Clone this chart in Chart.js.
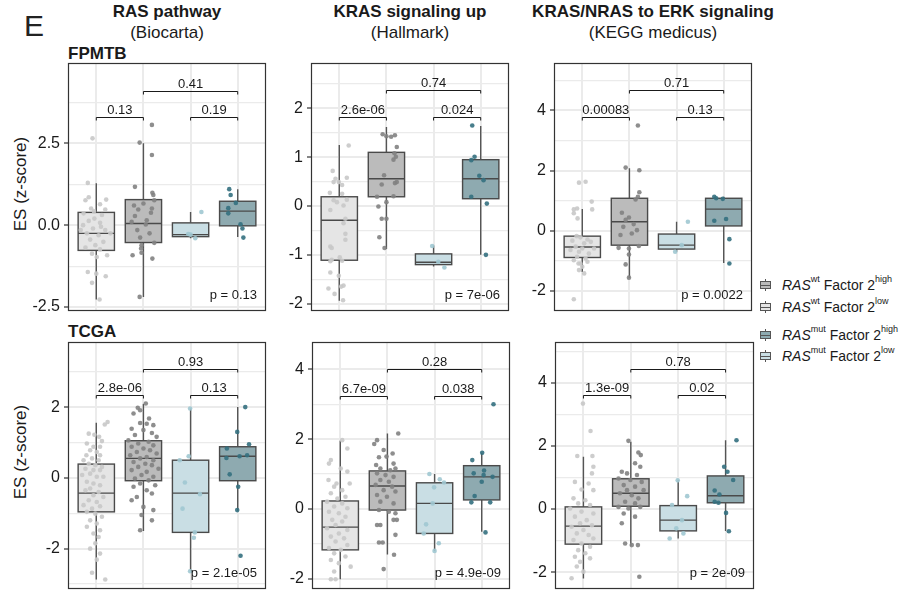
<!DOCTYPE html>
<html><head><meta charset="utf-8">
<script src="https://cdn.jsdelivr.net/npm/chart.js@4.4.0/dist/chart.umd.min.js"></script>
<style>
body{margin:0;width:902px;height:591px;background:#fff;position:relative;overflow:hidden;font-family:"Liberation Sans",Arial,sans-serif;color:#1a1a1a}
.abs{position:absolute;white-space:nowrap}
.t1{font-weight:bold;font-size:17px;line-height:20px;transform:translateX(-50%)}
.t2{font-size:17px;line-height:20px;transform:translateX(-50%)}
.coh{font-weight:bold;font-size:17px;line-height:18px}
.ylab{font-size:17px;line-height:18px;transform:translate(-50%,-50%) rotate(-90deg)}
.leg{font-size:14px;line-height:16px;left:760px}
.leg sup{font-size:9px;line-height:0;position:relative;top:-2px}
.ico{position:absolute;left:0;top:2px;width:11px;height:12px}
.ico b{position:absolute;display:block}
.ico .wh{left:5px;top:0;width:1px;height:12px;background:#555}
.ico .bx{left:0;top:2px;width:9px;height:6px;border:1px solid #555}
.ico .md{left:0;top:5.5px;width:11px;height:1px;background:#555}
.txt{position:absolute;left:22px;top:0}
</style></head><body>
<script>
// ---------- DATA ----------
const groupNames = ['RAS wt Factor 2 low','RAS wt Factor 2 high','RAS mut Factor 2 low','RAS mut Factor 2 high'];
const pathwayTitles = ['RAS pathway','KRAS signaling up','KRAS/NRAS to ERK signaling'];
const pathwaySources = ['(Biocarta)','(Hallmark)','(KEGG medicus)'];
const cohorts = ['FPMTB','TCGA'];
const bracketPairs = [[1,2],[3,4],[2,4]];

// Panel: FPMTB / RAS pathway
const fpmtbRasRange = [-2.62, 4.95];
const fpmtbRasTicks = [-2.5, 0, 2.5];
const fpmtbRasTickLabels = ['-2.5','0.0','2.5'];
const fpmtbRasStats = [[-2.27,-0.77,-0.25,0.39,1.28],[-2.19,-0.53,0.05,0.78,2.5],[-0.4,-0.35,-0.29,0.07,0.4],[-0.36,-0.02,0.43,0.73,1.1]];
const fpmtbRasPoints = [
 [[-0.08,2.65],[-0.18,1.29],[-0.23,0.76],[-0.16,0.85],[0.21,0.78],[0.19,0.48],[0.08,0.64],[-0.11,0.51],[-0.27,0.36],[0.12,0.31],[-0.04,0.2],[-0.16,0.13],[0.08,0.07],[-0.28,0.0],[-0.07,-0.1],[0.19,-0.15],[-0.2,-0.25],[0.05,-0.31],[-0.13,-0.44],[0.15,-0.51],[-0.02,-0.61],[-0.23,-0.68],[0.08,-0.74],[-0.09,-0.87],[0.23,-0.92],[0.01,-0.97],[-0.18,-1.43],[0.2,-1.56],[0.0,-1.48],[-0.09,-1.76],[0.07,-2.27],[-0.33,-0.15],[0.3,-0.25],[0.1,-0.05],[-0.05,0.42]],
 [[0.18,3.06],[-0.08,2.52],[0.18,2.14],[-0.18,1.17],[0.19,0.99],[0.21,0.92],[0.23,0.76],[0,0.66],[0.18,0.51],[-0.11,0.48],[0.16,0.38],[-0.18,0.28],[0.07,0.15],[-0.25,0.1],[-0.13,-0.15],[0.13,-0.25],[-0.07,-0.38],[0.23,-0.54],[-0.04,-0.61],[-0.05,-0.71],[-0.23,-0.92],[-0.04,-0.84],[0.19,-1.02],[-0.08,-2.19],[0.05,0.02],[-0.2,0.6]],
 [[0.23,0.4],[0,-0.29],[0.1,-0.4],[-0.05,-0.27]],
 [[-0.18,1.1],[-0.15,0.92],[-0.04,0.68],[-0.2,0.52],[-0.2,0.36],[0.06,0.03],[0.1,-0.1],[0.12,-0.38]]
];
const fpmtbRasBracketY = [3.31, 4.11];
const fpmtbRasPairP = ['0.13','0.19','0.41'];
const fpmtbRasKW = 'p = 0.13';

// Panel: FPMTB / KRAS signaling up
const fpmtbKrasRange = [-2.15, 2.93];
const fpmtbKrasTicks = [-2, -1, 0, 1, 2];
const fpmtbKrasTickLabels = ['-2','-1','0','1','2'];
const fpmtbKrasStats = [[-1.94,-1.11,-0.29,0.19,1.25],[-0.88,0.19,0.56,1.1,1.62],[-1.24,-1.2,-1.15,-0.98,-0.81],[-1.0,0.15,0.56,0.95,1.64]];
const fpmtbKrasPoints = [
 [[0.2,1.24],[-0.14,0.72],[0.16,0.58],[-0.08,0.56],[-0.01,0.49],[-0.12,0.49],[0.06,0.43],[-0.2,0.27],[0.06,0.25],[0.16,0.13],[-0.12,0.12],[-0.05,0.08],[0.09,0.01],[-0.19,-0.08],[0.13,-0.26],[0.09,-0.35],[0.13,-0.57],[0.13,-0.69],[-0.19,-0.83],[-0.16,-0.86],[0.01,-1.05],[-0.16,-1.1],[-0.19,-1.13],[0.06,-1.12],[-0.19,-1.36],[-0.01,-1.43],[0.09,-1.63],[0.04,-1.65],[-0.23,-1.69],[-0.1,-1.8],[0.08,-1.93]],
 [[-0.08,1.47],[0,1.43],[0.1,1.42],[0.18,1.45],[0.22,1.21],[0.17,1.08],[0.2,1.01],[0.15,0.95],[-0.05,0.63],[-0.1,0.44],[0.18,0.47],[0.22,0.49],[-0.2,0.19],[0.15,0.2],[0,0.08],[-0.17,-0.01],[-0.1,-0.26],[0,-0.26],[-0.15,-0.64],[-0.04,-0.86]],
 [[-0.03,-0.82],[0.1,-1.14],[0.23,-1.26]],
 [[-0.18,1.65],[-0.13,1.01],[-0.2,0.94],[-0.03,0.62],[0.06,0.53],[-0.2,0.19],[0.13,0.05],[0.11,-1.0]]
];
const fpmtbKrasBracketY = [1.83, 2.37];
const fpmtbKrasPairP = ['2.6e-06','0.024','0.74'];
const fpmtbKrasKW = 'p = 7e-06';

// Panel: FPMTB / KRAS/NRAS to ERK signaling
const fpmtbErkRange = [-2.67, 5.58];
const fpmtbErkTicks = [-2, 0, 2, 4];
const fpmtbErkTickLabels = ['-2','0','2','4'];
const fpmtbErkStats = [[-1.37,-0.89,-0.54,-0.18,0.72],[-1.57,-0.48,0.3,1.08,2.08],[-0.7,-0.61,-0.48,-0.11,0.3],[-1.07,0.16,0.72,1.08,1.13]];
const fpmtbErkPoints = [
 [[-0.07,1.6],[0.07,1.63],[-0.18,0.71],[-0.11,0.74],[0.2,0.97],[0.21,0.71],[-0.12,-0.18],[-0.04,-0.22],[0.11,-0.29],[-0.21,-0.33],[0.04,-0.42],[0.18,-0.37],[-0.14,-0.53],[0,-0.59],[0.25,-0.59],[-0.25,-0.64],[-0.07,-0.7],[0.14,-0.76],[-0.11,-0.87],[0.07,-0.92],[-0.18,-0.98],[-0.04,-1.09],[0.11,-1.03],[0,-1.2],[-0.07,-1.31],[0.04,-1.42],[-0.18,0.58],[-0.1,0.41],[-0.08,-1.09],[-0.18,-2.28]],
 [[0.18,3.5],[-0.08,2.1],[0.21,2.01],[0.21,1.28],[0.18,1.13],[0.13,1.04],[-0.16,0.6],[-0.01,0.44],[-0.13,0.13],[0.09,0.22],[0.16,0.02],[-0.23,-0.57],[-0.01,-0.59],[0.2,-0.51],[-0.01,-0.79],[-0.08,-1.12],[-0.01,-1.56],[-0.08,0.36],[0.05,-0.09],[-0.19,-0.14]],
 [[0.24,0.3],[0.11,-0.48],[-0.03,-0.7]],
 [[-0.2,1.13],[-0.16,1.08],[-0.02,1.06],[0.05,0.39],[-0.2,0.33],[0.12,-0.28],[0.12,-1.09]]
];
const fpmtbErkBracketY = [3.8, 4.67];
const fpmtbErkPairP = ['0.00083','0.13','0.71'];
const fpmtbErkKW = 'p = 0.0022';

// Panel: TCGA / RAS pathway
const tcgaRasRange = [-3.14, 3.84];
const tcgaRasTicks = [-2, 0, 2];
const tcgaRasTickLabels = ['-2','0','2'];
const tcgaRasStats = [[-2.87,-0.96,-0.43,0.39,1.56],[-1.5,-0.08,0.55,1.05,2.09],[-2.64,-1.54,-0.43,0.5,1.96],[-0.93,-0.08,0.61,0.88,2.0]];
const tcgaRasPoints = [
 [[0.24,1.58],[0.18,1.51],[-0.16,1.25],[-0.04,1.22],[0.06,1.16],[0.12,1.04],[-0.2,0.97],[-0.06,0.88],[0.08,0.88],[-0.13,0.78],[0.01,0.73],[-0.21,0.64],[0.08,0.64],[-0.09,0.55],[-0.27,0.5],[0.05,0.5],[-0.16,0.4],[-0.02,0.36],[0.12,0.31],[-0.23,0.26],[-0.06,0.22],[0.08,0.22],[-0.13,0.12],[-0.3,0.08],[0.01,0.03],[0.15,0.03],[-0.2,-0.11],[-0.06,-0.16],[0.08,-0.21],[-0.13,-0.3],[-0.23,-0.35],[0.05,-0.4],[-0.06,-0.49],[0.15,-0.54],[-0.16,-0.63],[0.01,-0.68],[-0.27,-0.77],[0.08,-0.8],[-0.09,-0.87],[-0.2,-0.96],[-0.02,-1.01],[0.12,-1.1],[-0.13,-1.2],[0.01,-1.29],[-0.2,-1.38],[0.08,-1.48],[-0.06,-1.57],[0.05,-1.67],[-0.02,-1.85],[-0.13,-2.0],[0.08,-2.14],[0.01,-2.31],[-0.09,-2.68],[0.19,-2.87]],
 [[0.05,2.1],[-0.12,1.98],[-0.07,1.91],[-0.21,1.82],[0.12,1.68],[-0.07,1.55],[0.07,1.53],[0.21,1.49],[-0.25,1.39],[0,1.35],[0.18,1.27],[-0.18,1.21],[0.28,1.16],[-0.32,1.06],[0.11,1.02],[-0.11,0.97],[0.21,0.92],[-0.25,0.88],[0,0.83],[0.14,0.78],[-0.14,0.73],[0.28,0.69],[-0.28,0.64],[0.07,0.59],[-0.07,0.55],[0.21,0.5],[-0.21,0.45],[0.04,0.4],[0.18,0.36],[-0.11,0.31],[0.32,0.26],[-0.25,0.22],[0.07,0.17],[-0.04,0.08],[0.21,0.03],[-0.18,-0.02],[0.11,-0.07],[-0.07,-0.16],[0.25,-0.21],[-0.21,-0.25],[0.07,-0.35],[0.18,-0.44],[-0.14,-0.54],[-0.25,-0.63],[0,-0.82],[0.21,-0.91],[-0.04,-1.05],[0.18,-1.2],[-0.07,-1.48]],
 [[-0.01,1.96],[-0.04,0.61],[-0.23,0.5],[-0.12,-0.13],[0.2,-0.46],[-0.17,-0.87],[0.09,-1.54],[0.07,-1.69],[-0.01,-2.64]],
 [[0.16,2.0],[-0.01,1.3],[0.24,0.95],[-0.23,0.83],[-0.24,0.56],[0.04,0.61],[0.2,0.64],[-0.17,0.1],[0.01,-0.25],[-0.01,-0.91],[0.06,-2.2]]
];
const tcgaRasBracketY = [2.34, 3.07];
const tcgaRasPairP = ['2.8e-06','0.13','0.93'];
const tcgaRasKW = 'p = 2.1e-05';

// Panel: TCGA / KRAS signaling up
const tcgaKrasRange = [-2.29, 4.78];
const tcgaKrasTicks = [-2, 0, 2, 4];
const tcgaKrasTickLabels = ['-2','0','2','4'];
const tcgaKrasStats = [[-2.01,-1.17,-0.52,0.23,1.95],[-1.3,-0.03,0.66,1.09,2.16],[-1.2,-0.7,0.16,0.75,1.0],[-0.65,0.26,0.92,1.24,1.61]];
const tcgaKrasPoints = [
 [[0.04,1.97],[0.15,1.73],[-0.2,1.4],[-0.24,1.3],[0.01,1.16],[0.15,1.07],[-0.25,0.83],[-0.08,0.73],[0.2,0.73],[-0.13,0.64],[0.04,0.54],[-0.2,0.45],[0.11,0.35],[-0.06,0.3],[-0.28,0.21],[0.04,0.16],[-0.13,0.07],[0.15,0.02],[-0.24,-0.08],[-0.03,-0.12],[0.11,-0.22],[-0.17,-0.31],[0.04,-0.36],[-0.1,-0.46],[-0.28,-0.55],[0.15,-0.6],[-0.03,-0.7],[-0.2,-0.79],[0.08,-0.84],[-0.1,-0.93],[0.15,-1.03],[-0.24,-1.12],[0.01,-1.17],[-0.13,-1.27],[0.11,-1.36],[-0.2,-1.46],[-0.03,-1.55],[0.22,-1.65],[-0.13,-1.79],[-0.2,-2.01],[-0.1,-2.01]],
 [[0.23,2.16],[-0.22,1.97],[-0.28,1.86],[-0.08,1.69],[-0.18,1.48],[-0.02,1.5],[0.11,1.59],[-0.24,1.26],[0.13,1.3],[-0.15,1.16],[0.06,1.11],[0.17,1.16],[-0.22,1.02],[-0.04,0.97],[0.13,0.92],[-0.15,0.83],[0.03,0.78],[-0.25,0.69],[0.1,0.64],[-0.08,0.54],[0.17,0.5],[-0.22,0.4],[-0.01,0.35],[-0.15,0.21],[0.13,0.16],[-0.18,-0.03],[0.03,-0.08],[0.17,-0.12],[-0.22,-0.46],[-0.15,-0.46],[0.13,-0.31],[0.2,-0.31],[0.17,-0.74],[-0.18,-0.96],[-0.1,-0.96],[0.14,-1.31],[-0.08,-1.72]],
 [[-0.11,1.0],[0.11,0.85],[0.2,0.76],[-0.01,0.62],[-0.04,0.16],[-0.18,-0.44],[-0.23,-0.7],[0.09,-0.98],[0,-1.2]],
 [[0.25,3.0],[0.01,1.61],[-0.2,1.4],[0.05,1.1],[0.04,0.97],[-0.17,1.02],[0.23,0.92],[0,0.78],[-0.15,0.37],[-0.22,0.19],[0.18,0.19],[0.08,-0.67]]
];
const tcgaKrasBracketY = [3.24, 4.0];
const tcgaKrasPairP = ['6.7e-09','0.038','0.28'];
const tcgaKrasKW = 'p = 4.9e-09';

// Panel: TCGA / KRAS/NRAS to ERK signaling
const tcgaErkRange = [-2.53, 5.29];
const tcgaErkTicks = [-2, 0, 2, 4];
const tcgaErkTickLabels = ['-2','0','2','4'];
const tcgaErkStats = [[-2.2,-1.11,-0.54,0.07,1.66],[-1.17,0.09,0.5,0.96,2.13],[-0.93,-0.69,-0.35,0.11,0.92],[-0.69,0.2,0.42,1.05,2.18]];
const tcgaErkPoints = [
 [[-0.01,3.34],[0.15,2.47],[0.19,1.68],[-0.13,1.68],[0.21,1.34],[0.18,1.13],[-0.18,0.86],[0.11,0.81],[-0.04,0.62],[0.21,0.6],[-0.21,0.34],[0.04,0.28],[-0.11,0.18],[0.14,0.13],[-0.28,0.02],[-0.04,-0.08],[0.21,-0.14],[-0.18,-0.24],[0.07,-0.35],[-0.07,-0.45],[0.18,-0.51],[-0.25,-0.56],[0,-0.66],[-0.14,-0.77],[0.11,-0.82],[0.21,-0.93],[-0.21,-0.98],[-0.04,-1.09],[0.14,-1.19],[-0.11,-1.3],[0.04,-1.4],[-0.18,-1.51],[0.14,-1.56],[-0.07,-1.67],[-0.14,-1.82],[0,-1.98],[-0.25,-2.19]],
 [[-0.05,2.16],[0.16,1.79],[0.21,1.71],[0.09,1.45],[0.2,1.34],[-0.19,1.18],[-0.08,1.13],[0.13,1.08],[-0.26,0.97],[-0.01,0.92],[0.23,0.86],[-0.15,0.76],[0.09,0.71],[-0.08,0.6],[0.27,0.6],[-0.23,0.5],[0.02,0.44],[0.16,0.34],[-0.12,0.23],[0.09,0.18],[-0.26,0.07],[-0.05,0.02],[0.2,0.07],[-0.15,-0.14],[0.09,-0.24],[-0.19,-0.45],[0.15,-1.14],[-0.12,-1.09],[0.02,-1.14],[0.18,-2.14]],
 [[-0.01,0.91],[0.19,0.41],[-0.13,0.13],[0.08,-0.35],[-0.04,-0.61],[0.11,-0.77],[-0.18,-0.93]],
 [[0.23,2.18],[-0.03,1.34],[0.04,1.18],[0.16,0.92],[-0.23,0.59],[-0.13,0.46],[-0.23,0.23],[-0.15,0.2],[0.01,-0.12],[0.07,-0.7]]
];
const tcgaErkBracketY = [3.6, 4.43];
const tcgaErkPairP = ['1.3e-09','0.02','0.78'];
const tcgaErkKW = 'p = 2e-09';

// ---------- STYLE / LAYOUT ----------
const boxFill = ['#e5e5e5','#bbbbbb','#c9dee4','#8eaab0'];
const pointColor = ['rgba(200,200,200,0.9)','rgba(130,130,130,0.9)','rgba(160,200,210,0.9)','rgba(52,112,127,0.9)'];
const BOX_W = 0.77;
const panels = [
 {rect:[68,63,266,311], range:fpmtbRasRange, ticks:fpmtbRasTicks, tickLabels:fpmtbRasTickLabels, stats:fpmtbRasStats, points:fpmtbRasPoints, bracketY:fpmtbRasBracketY, pairP:fpmtbRasPairP, kw:fpmtbRasKW},
 {rect:[311,63,509,311], range:fpmtbKrasRange, ticks:fpmtbKrasTicks, tickLabels:fpmtbKrasTickLabels, stats:fpmtbKrasStats, points:fpmtbKrasPoints, bracketY:fpmtbKrasBracketY, pairP:fpmtbKrasPairP, kw:fpmtbKrasKW},
 {rect:[554,63,752,311], range:fpmtbErkRange, ticks:fpmtbErkTicks, tickLabels:fpmtbErkTickLabels, stats:fpmtbErkStats, points:fpmtbErkPoints, bracketY:fpmtbErkBracketY, pairP:fpmtbErkPairP, kw:fpmtbErkKW},
 {rect:[68,342,266,589], range:tcgaRasRange, ticks:tcgaRasTicks, tickLabels:tcgaRasTickLabels, stats:tcgaRasStats, points:tcgaRasPoints, bracketY:tcgaRasBracketY, pairP:tcgaRasPairP, kw:tcgaRasKW},
 {rect:[312,342,510,589], range:tcgaKrasRange, ticks:tcgaKrasTicks, tickLabels:tcgaKrasTickLabels, stats:tcgaKrasStats, points:tcgaKrasPoints, bracketY:tcgaKrasBracketY, pairP:tcgaKrasPairP, kw:tcgaKrasKW},
 {rect:[555,342,754,589], range:tcgaErkRange, ticks:tcgaErkTicks, tickLabels:tcgaErkTickLabels, stats:tcgaErkStats, points:tcgaErkPoints, bracketY:tcgaErkBracketY, pairP:tcgaErkPairP, kw:tcgaErkKW}
];

function addText(cls, html, style){
  const d=document.createElement('div'); d.className='abs '+cls; d.innerHTML=html; d.style.cssText=style; document.body.appendChild(d); return d;
}
// titles
const colCenters=[167,410,653];
pathwayTitles.forEach((t,i)=>{ addText('t1',t,`left:${colCenters[i]}px;top:2px`); addText('t2',pathwaySources[i],`left:${colCenters[i]}px;top:23px`); });
addText('', 'E', 'left:24px;top:8px;font-size:30px;line-height:36px;color:#222');
addText('coh', cohorts[0], 'left:68px;top:45px');
addText('coh', cohorts[1], 'left:68px;top:323px');
addText('ylab','ES (z-score)','left:21px;top:184px');
addText('ylab','ES (z-score)','left:21px;top:452px');
// legend
const legOrder=[1,0,3,2], legTops=[277,299,327,348];
legOrder.forEach((g,i)=>{
  const mut = g>=2, hi = g%2===1;
  addText('leg', `<span class="ico"><b class="wh"></b><b class="bx" style="background:${boxFill[g]}"></b><b class="md"></b></span><span class="txt"><i>RAS</i><sup>${mut?'mut':'wt'}</sup> Factor 2<sup>${hi?'high':'low'}</sup></span>`, `top:${legTops[i]}px;width:140px;height:16px`);
});

function makePlugin(p){
  return {
    id:'boxes',
    beforeDatasetsDraw(chart){
      const {ctx, scales:{x,y}} = chart;
      p.stats.forEach((s,gi)=>{
        const c=gi+1;
        const cx=x.getPixelForValue(c), xl=x.getPixelForValue(c-BOX_W/2), xr=x.getPixelForValue(c+BOX_W/2);
        const [lo,q1,md,q3,hi]=s.map(v=>y.getPixelForValue(v));
        ctx.save();
        ctx.lineWidth=1.4; ctx.strokeStyle='#555';
        ctx.beginPath(); ctx.moveTo(cx,lo); ctx.lineTo(cx,q1); ctx.moveTo(cx,q3); ctx.lineTo(cx,hi); ctx.stroke();
        ctx.fillStyle=boxFill[gi]; ctx.fillRect(xl,q3,xr-xl,q1-q3);
        ctx.strokeStyle='#4a4a4a'; ctx.strokeRect(xl,q3,xr-xl,q1-q3);
        ctx.beginPath(); ctx.moveTo(xl,md); ctx.lineTo(xr,md); ctx.stroke();
        ctx.restore();
      });
    },
    afterDatasetsDraw(chart){
      const {ctx, chartArea:a, scales:{x,y}} = chart;
      ctx.save();
      ctx.strokeStyle='#1a1a1a'; ctx.lineWidth=1; ctx.fillStyle='#1a1a1a';
      ctx.font='13px "Liberation Sans", Arial, sans-serif'; ctx.textAlign='center'; ctx.textBaseline='alphabetic';
      bracketPairs.forEach((pr,i)=>{
        const yy=Math.round(y.getPixelForValue(i<2?p.bracketY[0]:p.bracketY[1]))+0.5;
        const x1=x.getPixelForValue(pr[0]), x2=x.getPixelForValue(pr[1]);
        ctx.beginPath(); ctx.moveTo(x1,yy+3); ctx.lineTo(x1,yy); ctx.lineTo(x2,yy); ctx.lineTo(x2,yy+3); ctx.stroke();
        ctx.fillText(p.pairP[i],(x1+x2)/2,yy-3.5);
      });
      ctx.textAlign='right';
      ctx.fillText(p.kw,a.right-9,a.bottom-12);
      ctx.strokeStyle='#333'; ctx.lineWidth=1.2;
      ctx.strokeRect(Math.round(a.left)+0.5,Math.round(a.top)+0.5,Math.round(a.right-a.left)-1,Math.round(a.bottom-a.top)-1);
      ctx.restore();
    }
  };
}

const ML=52, MT=16, MR=4, MB=16;
panels.forEach(p=>{
  const W=p.rect[2]-p.rect[0], H=p.rect[3]-p.rect[1];
  const cv=document.createElement('canvas');
  cv.width=W+ML+MR; cv.height=H+MT+MB;
  cv.style.cssText=`position:absolute;left:${p.rect[0]-ML}px;top:${p.rect[1]-MT}px;width:${W+ML+MR}px;height:${H+MT+MB}px`;
  document.body.appendChild(cv);
  const step=p.ticks[1]-p.ticks[0];
  const minors=[];
  p.ticks.forEach(t=>{[t-step/2,t+step/2].forEach(m=>{ if(m>p.range[0]&&m<p.range[1]&&!minors.some(q=>Math.abs(q-m)<1e-9)) minors.push(m);});});
  const allTicks=p.ticks.concat(minors).sort((a,b)=>a-b);
  const isMajor=v=>p.ticks.some(t=>Math.abs(t-v)<1e-9);
  new Chart(cv,{
    type:'scatter',
    data:{datasets:p.points.map((pts,gi)=>({label:groupNames[gi],data:pts.map(q=>({x:gi+1+q[0],y:q[1]})),backgroundColor:pointColor[gi],borderWidth:0,pointRadius:2.3,pointHoverRadius:2.3}))},
    options:{
      responsive:false, animation:false, events:[],
      layout:{padding:{left:0,top:MT,right:MR,bottom:MB}},
      plugins:{legend:{display:false},tooltip:{enabled:false}},
      scales:{
        x:{type:'linear',min:0.4,max:4.6,
           afterBuildTicks:s=>{s.ticks=[1,2,3,4].map(v=>({value:v}));},
           afterFit:s=>{s.height=0;},
           ticks:{display:false}, border:{display:false},
           grid:{color:'#ebebeb',lineWidth:2,drawTicks:false}},
        y:{type:'linear',min:p.range[0],max:p.range[1],
           afterBuildTicks:s=>{s.ticks=allTicks.map(v=>({value:v}));},
           afterFit:s=>{s.width=ML; s.paddingTop=0; s.paddingBottom=0;},
           border:{display:false},
           ticks:{padding:4,color:'#1a1a1a',font:{family:'"Liberation Sans", Arial, sans-serif',size:16},
             callback:(v)=>{const i=p.ticks.findIndex(t=>Math.abs(t-v)<1e-9); return i>=0?p.tickLabels[i]:'';}},
           grid:{color:'#ebebeb',lineWidth:c=>isMajor(c.tick.value)?2:1.2,drawTicks:true,tickLength:4,
             tickColor:c=>isMajor(c.tick.value)?'#333':'rgba(0,0,0,0)',tickWidth:1.2}}
      }
    },
    plugins:[makePlugin(p)]
  });
});
</script>
</body></html>
